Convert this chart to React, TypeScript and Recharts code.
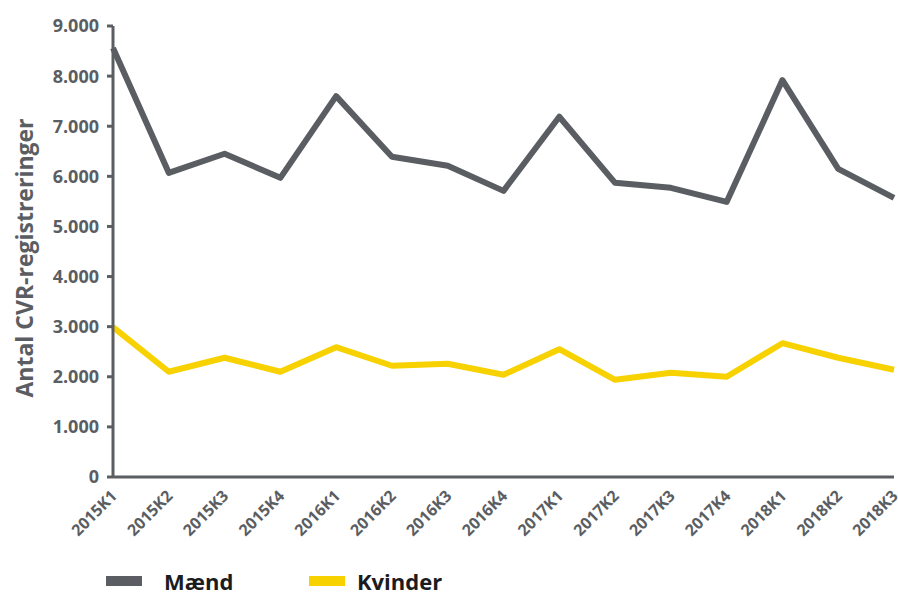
import { LineChart, Line, XAxis, YAxis, Label } from "recharts";

const quarters = [
  "2015K1", "2015K2", "2015K3", "2015K4",
  "2016K1", "2016K2", "2016K3", "2016K4",
  "2017K1", "2017K2", "2017K3", "2017K4",
  "2018K1", "2018K2", "2018K3",
];
const maend = [8560, 6070, 6450, 5970, 7600, 6390, 6210, 5710, 7190, 5870, 5770, 5490, 7920, 6150, 5570];
const kvinder = [2990, 2100, 2380, 2100, 2590, 2220, 2260, 2040, 2550, 1940, 2080, 2000, 2670, 2380, 2140];
const yTicks = [0, 1000, 2000, 3000, 4000, 5000, 6000, 7000, 8000, 9000];

const data = quarters.map((q, i) => ({ q, maend: maend[i], kvinder: kvinder[i] }));

const GREY = "#5a5e63";
const YELLOW = "#f7d100";
const FONT = "'Open Sans', sans-serif";

const fmt = (v: number) => String(v).replace(/\B(?=(\d{3})+(?!\d))/g, ".");

export default function App() {
  return (
    <div style={{ position: "absolute", left: 0, top: 0, width: 898, height: 596, background: "#fff", overflow: "hidden" }}>
      <LineChart width={898} height={596} data={data} margin={{ top: 26, right: 4, left: 0, bottom: 0 }}>
        <XAxis
          dataKey="q"
          height={119}
          angle={-45}
          textAnchor="end"
          tick={{ fill: GREY, fontSize: 16, fontWeight: 700, fontFamily: FONT, dx: -3 }}
          tickLine={false}
          tickMargin={6}
          axisLine={{ stroke: GREY, strokeWidth: 3 }}
          interval={0}
        />
        <YAxis
          width={113}
          domain={[0, 9000]}
          ticks={yTicks}
          tickFormatter={fmt}
          tickSize={6}
          tickMargin={8}
          tickLine={{ stroke: GREY, strokeWidth: 3 }}
          axisLine={{ stroke: GREY, strokeWidth: 3 }}
          tick={{ fill: GREY, fontSize: 18, fontWeight: 700, fontFamily: FONT }}
        >
          <Label
            content={() => (
              <text
                x={33}
                y={258}
                transform="rotate(-90, 33, 258)"
                textAnchor="middle"
                fill={GREY}
                fontSize={23}
                fontWeight={700}
                fontFamily={FONT}
              >
                Antal CVR-registreringer
              </text>
            )}
          />
        </YAxis>
        <Line
          type="linear"
          dataKey="maend"
          stroke={GREY}
          strokeWidth={6}
          strokeLinejoin="round"
          dot={false}
          isAnimationActive={false}
        />
        <Line
          type="linear"
          dataKey="kvinder"
          stroke={YELLOW}
          strokeWidth={6}
          strokeLinejoin="round"
          dot={false}
          isAnimationActive={false}
        />
      </LineChart>
      <div
        style={{
          position: "absolute",
          left: 106,
          top: 570,
          display: "flex",
          alignItems: "center",
          fontFamily: FONT,
          fontWeight: 700,
          fontSize: 22,
          lineHeight: "22px",
          color: "#1b1c1e",
        }}
      >
        <span style={{ width: 36, height: 10, background: GREY, display: "inline-block" }} />
        <span style={{ marginLeft: 22, width: 145 }}>Mænd</span>
        <span style={{ width: 36, height: 10, background: YELLOW, display: "inline-block" }} />
        <span style={{ marginLeft: 12 }}>Kvinder</span>
      </div>
    </div>
  );
}
